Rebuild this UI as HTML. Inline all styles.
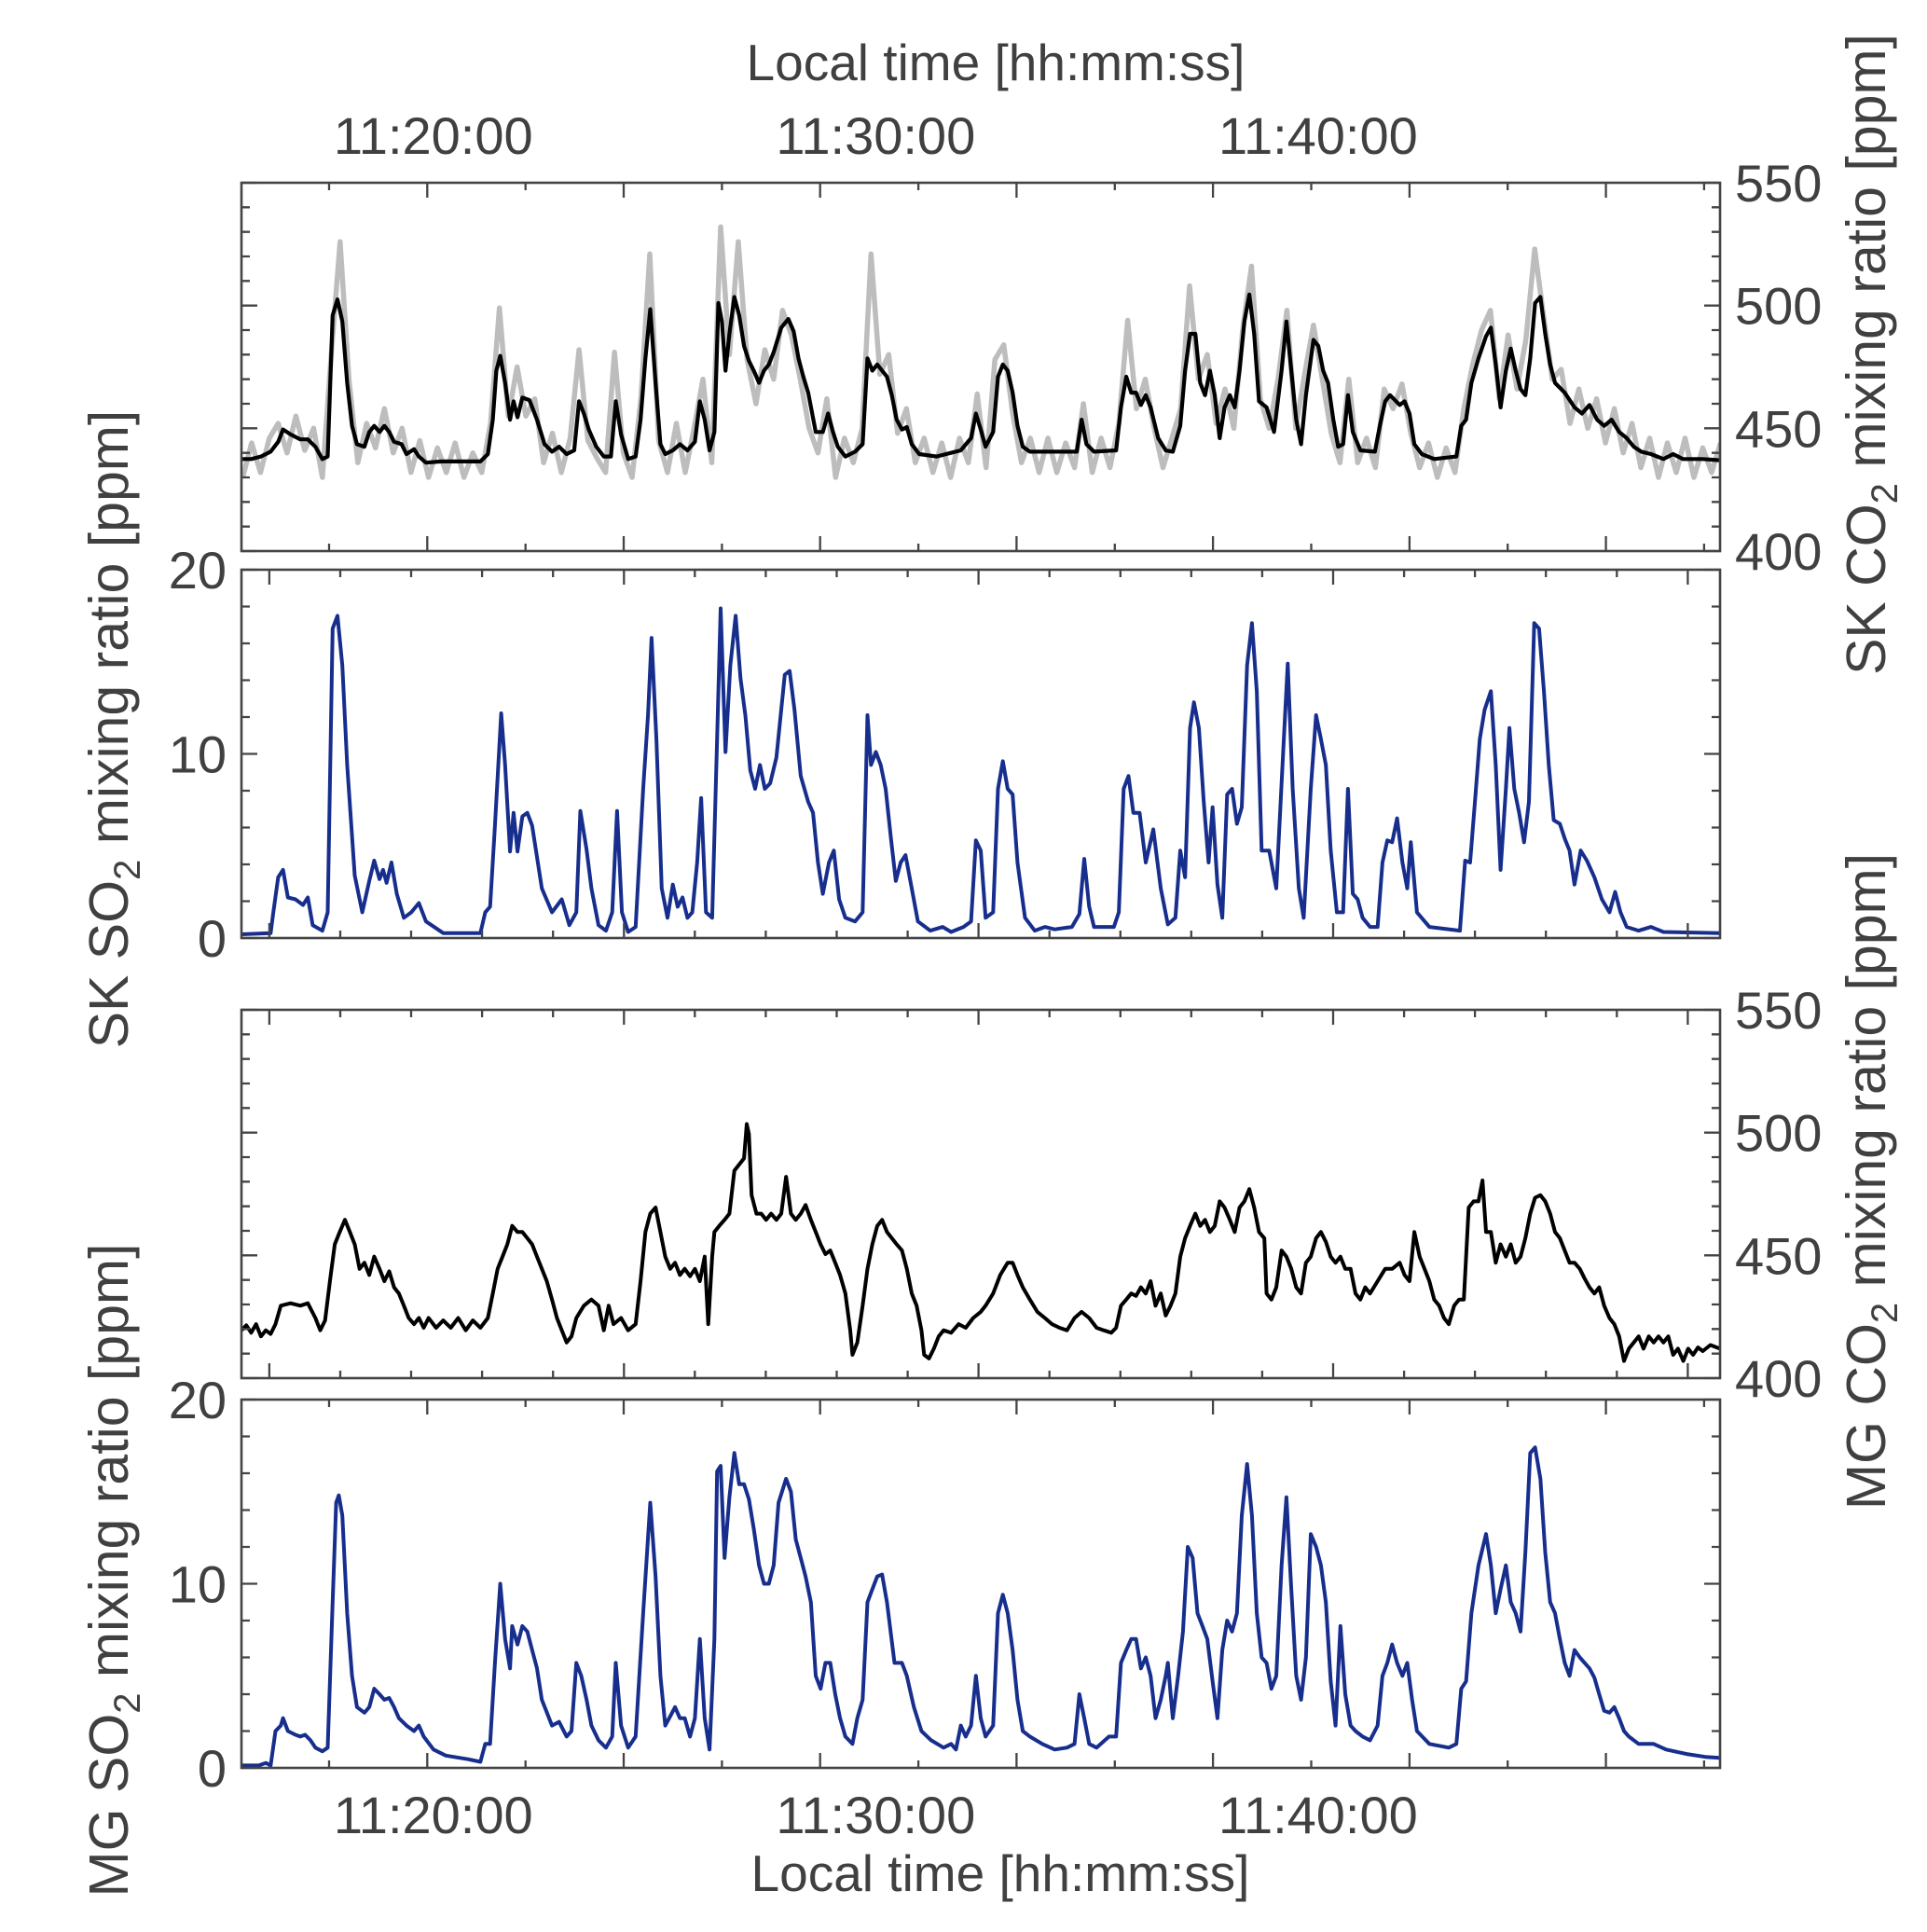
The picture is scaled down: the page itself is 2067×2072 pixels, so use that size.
<!DOCTYPE html>
<html><head><meta charset="utf-8">
<style>
html,body{margin:0;padding:0;background:#fff;}
svg{display:block;}
text{font-family:"Liberation Sans",Arial,sans-serif;fill:#404040;}
</style></head>
<body>
<svg id="chart" width="2067" height="2072" viewBox="0 0 2067 2072" xmlns="http://www.w3.org/2000/svg"></svg>
<script>
// ---------- data (time in minutes after 11:00:00) ----------
const timeLabels = ["11:20:00","11:30:00","11:40:00"];
const timeLabelMinutes = [20,30,40];
const co2Ticks = [400,450,500,550];
const so2Ticks = [0,10,20];

const skCo2T = [15.77,15.99,16.21,16.43,16.60,16.71,16.88,17.10,17.27,17.44,17.60,17.72,17.83,17.94,18.05,18.16,18.27,18.38,18.55,18.66,18.77,18.89,19.00,19.11,19.22,19.39,19.50,19.67,19.78,19.94,20.28,20.67,21.17,21.34,21.45,21.53,21.62,21.73,21.84,21.92,22.01,22.12,22.28,22.45,22.62,22.79,22.95,23.12,23.29,23.40,23.51,23.62,23.79,23.96,24.12,24.23,24.35,24.51,24.68,24.79,24.90,25.01,25.13,25.24,25.35,25.52,25.68,25.85,26.02,26.13,26.24,26.35,26.46,26.55,26.63,26.71,26.80,26.91,27.02,27.13,27.24,27.35,27.47,27.58,27.69,27.80,27.97,28.13,28.25,28.36,28.47,28.58,28.75,28.91,29.03,29.14,29.25,29.42,29.64,29.81,29.92,30.03,30.14,30.25,30.36,30.47,30.58,30.70,30.81,30.92,31.09,31.48,32.03,32.26,32.37,32.48,32.59,32.76,32.87,32.98,33.09,33.20,33.31,33.43,33.59,34.15,34.65,34.76,34.87,35.04,35.54,35.65,35.77,35.88,35.99,36.10,36.21,36.32,36.49,36.66,36.82,36.99,37.10,37.21,37.33,37.44,37.55,37.66,37.77,37.88,37.99,38.11,38.22,38.33,38.44,38.55,38.66,38.77,38.94,39.11,39.28,39.39,39.50,39.61,39.72,39.83,40.00,40.11,40.22,40.33,40.45,40.56,40.67,40.78,40.89,41.06,41.39,41.50,41.62,41.73,41.95,42.06,42.17,42.28,42.45,42.73,43.23,43.34,43.45,43.57,43.73,43.90,44.01,44.12,44.23,44.35,44.46,44.57,44.68,44.79,44.90,45.01,45.13,45.24,45.35,45.46,45.68,45.90,46.07,46.24,46.41,46.57,46.74,46.91,47.08,47.24,47.41,47.63,47.91,48.13,48.35,48.80,49.19];
const skCo2V = [437.5,437.5,438.5,440.5,444.5,449.5,447.5,445.5,445.5,442.5,437.5,438.5,496,502.5,493.5,468.5,451,443.5,442.5,448.5,451,448.5,451,448.5,444.5,443.5,439.5,441.5,438.5,436,436.5,436.5,436.5,439.5,453.5,473.5,479.5,468.5,453.5,461,454.5,462.5,461.5,453.5,443.5,440.5,442.5,439.5,441,461,456,449.5,442.5,438.5,438.5,461,447.5,437.5,438.5,453.5,478.5,498.5,468.5,443.5,439.5,441,443.5,441,444.5,461,453.5,441,448.5,501,493.5,473.5,488.5,503.5,496,483.5,477.5,473.5,468.5,473.5,476,481,491,494.5,489.5,478.5,471,464.5,448.5,448.5,456,448.5,442.5,438.5,440.5,443.5,478.5,473.5,476,473.5,471,463.5,453.5,449.5,450.5,443.5,439.5,438.5,441,446,456,449.5,442.5,448.5,471,476,473.5,464.5,451,442.5,440.5,440.5,440.5,453.5,443.5,440.5,441,458.5,471,464.5,464.5,459.5,463.5,458.5,446,441,440.5,451,473.5,488.5,488.5,468.5,463.5,473.5,463.5,446,458.5,463.5,458.5,473.5,493.5,504.5,488.5,461,458.5,448.5,473.5,493.5,473.5,453.5,443.5,463.5,486,483.5,473.5,468.5,453.5,442.5,443.5,463.5,448.5,441,440.5,451,461,463.5,459.5,461,456,443.5,439.5,437.5,438.5,451,453.5,468.5,478.5,487.5,491,476,458.5,473.5,482.5,473.5,466,463.5,478.5,501,503.5,488.5,476,468.5,464.5,458.5,456,459.5,453.5,451,453.5,448.5,446,442.5,440.5,439.5,437.5,439.5,437.5,437.5,437];

const skCo2RawT = [15.8,16.0,16.2,16.4,16.6,16.8,17.0,17.2,17.4,17.6,17.8,18.0,18.2,18.4,18.6,18.8,19.0,19.2,19.4,19.6,19.8,20.0,20.2,20.4,20.6,20.8,21.0,21.2,21.4,21.6,21.8,22.0,22.2,22.4,22.6,22.8,23.0,23.2,23.4,23.6,23.8,24.0,24.2,24.4,24.6,24.8,25.0,25.2,25.4,25.6,25.8,26.0,26.2,26.4,26.6,26.8,27.0,27.2,27.4,27.6,27.8,28.0,28.2,28.4,28.6,28.8,29.0,29.2,29.4,29.6,29.8,30.0,30.2,30.4,30.6,30.8,31.0,31.2,31.4,31.6,31.8,32.0,32.2,32.4,32.6,32.8,33.0,33.2,33.4,33.6,33.8,34.0,34.2,34.4,34.6,34.8,35.0,35.2,35.4,35.6,35.8,36.0,36.2,36.4,36.6,36.8,37.0,37.2,37.4,37.6,37.8,38.0,38.2,38.4,38.6,38.8,39.0,39.2,39.4,39.6,39.8,40.0,40.2,40.4,40.6,40.8,41.0,41.2,41.4,41.6,41.8,42.0,42.2,42.4,42.6,42.8,43.0,43.2,43.4,43.6,43.8,44.0,44.2,44.4,44.6,44.8,45.0,45.2,45.4,45.6,45.8,46.0,46.2,46.4,46.6,46.8,47.0,47.2,47.4,47.6,47.8,48.0,48.2,48.4,48.6,48.8,49.0,49.2];
const skCo2RawV = [430,444,432,446,452,440,455,441,450,430,480,526,470,436,452,442,458,440,450,432,445,430,442,432,444,430,440,432,452,499,455,475,455,462,436,448,432,446,482,445,438,432,481,440,430,462,521,445,432,452,432,450,470,436,532,480,526,478,460,482,470,498,488,470,450,440,462,430,446,436,450,521,472,480,448,458,436,446,432,444,430,446,436,464,434,478,484,456,436,446,432,446,432,444,434,460,432,446,434,452,494,458,470,450,434,446,458,508,470,480,452,466,450,490,516,462,450,470,498,450,472,492,470,448,436,470,436,446,434,466,458,468,448,434,444,430,442,432,458,476,490,498,462,488,466,486,523,496,470,474,452,466,450,462,444,458,440,452,434,446,430,444,432,446,430,442,432,444];

const skSo2T = [15.77,16.43,16.49,16.60,16.71,16.82,16.99,17.16,17.27,17.38,17.60,17.72,17.83,17.94,18.05,18.16,18.33,18.50,18.66,18.77,18.89,18.97,19.05,19.16,19.28,19.44,19.61,19.78,19.94,20.33,21.17,21.28,21.39,21.50,21.64,21.73,21.84,21.92,22.01,22.12,22.23,22.34,22.56,22.79,23.01,23.18,23.34,23.43,23.57,23.68,23.84,24.01,24.15,24.26,24.37,24.51,24.68,24.85,24.96,25.04,25.15,25.27,25.40,25.52,25.63,25.74,25.85,25.96,26.07,26.16,26.27,26.41,26.52,26.60,26.71,26.82,26.94,27.05,27.16,27.27,27.38,27.49,27.60,27.72,27.86,28.05,28.16,28.27,28.41,28.58,28.69,28.80,28.91,29.05,29.16,29.28,29.42,29.64,29.81,29.92,30.00,30.11,30.22,30.33,30.45,30.56,30.67,30.78,30.89,31.06,31.34,31.62,31.81,32.09,32.26,32.37,32.48,32.59,32.76,32.87,32.98,33.09,33.20,33.31,33.48,33.70,33.93,34.15,34.54,34.71,34.82,34.93,35.04,35.49,35.60,35.71,35.82,35.93,36.07,36.21,36.38,36.55,36.71,36.88,36.99,37.10,37.21,37.30,37.41,37.52,37.63,37.72,37.83,37.94,38.05,38.16,38.27,38.38,38.50,38.61,38.72,38.83,39.00,39.16,39.33,39.42,39.53,39.67,39.78,39.94,40.06,40.17,40.28,40.39,40.53,40.67,40.78,40.89,41.00,41.11,41.28,41.45,41.56,41.67,41.78,41.89,42.01,42.12,42.20,42.34,42.62,43.31,43.43,43.54,43.65,43.76,43.87,44.01,44.12,44.23,44.35,44.43,44.54,44.65,44.76,44.87,44.99,45.10,45.21,45.32,45.43,45.57,45.68,45.79,45.90,46.04,46.18,46.35,46.52,46.69,46.82,46.94,47.08,47.35,47.63,47.91,49.19];
const skSo2V = [0.2,0.27,1.4,3.3,3.7,2.2,2.1,1.8,2.2,0.7,0.4,1.4,16.8,17.5,14.8,9.4,3.4,1.4,3.1,4.2,3.2,3.7,3.0,4.1,2.4,1.1,1.4,1.9,0.9,0.27,0.27,1.4,1.7,6.1,12.2,9.4,4.7,6.8,4.7,6.6,6.8,6.1,2.7,1.4,2.1,0.7,1.4,6.9,4.8,2.7,0.7,0.4,1.4,6.9,1.4,0.33,0.6,8.1,12.1,16.3,10.8,2.7,1.1,2.9,1.7,2.2,1.1,1.4,4.1,7.6,1.4,1.1,10.8,17.9,10.1,14.8,17.5,14.1,12.1,9.1,8.1,9.4,8.1,8.4,9.8,14.3,14.5,12.4,8.8,7.4,6.8,4.1,2.4,4.1,4.75,2.1,1.1,0.9,1.4,12.1,9.4,10.1,9.4,8.1,5.4,3.1,4.1,4.5,3.1,0.9,0.4,0.6,0.33,0.6,0.9,5.3,4.75,1.1,1.4,8.1,9.6,8.1,7.8,4.1,1.1,0.4,0.6,0.47,0.6,1.3,4.3,1.7,0.6,0.6,1.4,8.1,8.8,6.8,6.8,4.1,5.9,2.7,0.74,1.1,4.75,3.3,11.4,12.8,11.4,7.4,4.1,7.1,2.9,1.1,7.8,8.1,6.2,7.1,14.8,17.1,13.4,4.75,4.75,2.7,10.8,14.9,8.1,2.7,1.1,8.1,12.1,10.8,9.4,4.75,1.4,1.4,8.1,2.4,2.1,1.1,0.6,0.6,4.1,5.3,5.2,6.5,4.1,2.7,5.2,1.4,0.6,0.4,4.2,4.1,7.4,10.8,12.4,13.4,9.4,3.7,8.1,11.4,8.1,6.8,5.2,7.4,17.1,16.8,13.4,9.4,6.4,6.2,5.4,4.75,2.9,4.75,4.2,3.3,2.1,1.4,2.5,1.4,0.6,0.4,0.6,0.33,0.27];

const mgCo2T = [15.77,15.88,15.99,16.10,16.21,16.32,16.43,16.54,16.66,16.88,17.10,17.27,17.44,17.55,17.66,17.77,17.88,17.99,18.11,18.22,18.33,18.44,18.55,18.66,18.77,18.89,19.00,19.11,19.22,19.33,19.44,19.55,19.67,19.78,19.89,20.00,20.17,20.33,20.50,20.67,20.84,21.00,21.17,21.34,21.45,21.56,21.67,21.78,21.89,22.01,22.12,22.23,22.34,22.45,22.56,22.67,22.79,22.90,23.01,23.12,23.23,23.34,23.51,23.68,23.84,23.96,24.07,24.18,24.35,24.51,24.68,24.79,24.90,25.01,25.13,25.24,25.35,25.46,25.57,25.68,25.79,25.91,26.02,26.13,26.24,26.32,26.41,26.46,26.57,26.69,26.80,26.91,27.02,27.13,27.19,27.24,27.30,27.41,27.52,27.63,27.74,27.86,27.97,28.08,28.19,28.30,28.41,28.52,28.64,28.75,28.86,28.97,29.08,29.19,29.30,29.42,29.53,29.58,29.69,29.81,29.92,30.03,30.14,30.25,30.36,30.47,30.58,30.70,30.81,30.92,31.03,31.14,31.20,31.31,31.42,31.53,31.64,31.81,31.98,32.14,32.31,32.48,32.59,32.76,32.92,33.09,33.20,33.31,33.43,33.59,33.76,33.93,34.09,34.26,34.43,34.60,34.76,34.93,35.10,35.26,35.43,35.54,35.65,35.77,35.88,35.99,36.10,36.21,36.32,36.43,36.55,36.66,36.77,36.88,36.99,37.10,37.21,37.33,37.44,37.55,37.66,37.77,37.88,37.99,38.11,38.22,38.33,38.44,38.55,38.66,38.77,38.89,38.94,39.05,39.16,39.28,39.39,39.50,39.61,39.72,39.83,39.94,40.06,40.17,40.28,40.39,40.50,40.61,40.72,40.84,40.95,41.06,41.17,41.28,41.45,41.62,41.78,41.95,42.06,42.17,42.28,42.40,42.51,42.62,42.73,42.84,42.95,43.06,43.18,43.29,43.40,43.51,43.62,43.73,43.82,43.90,44.01,44.12,44.23,44.35,44.46,44.57,44.68,44.79,44.90,45.01,45.13,45.24,45.35,45.46,45.57,45.68,45.79,45.90,46.02,46.13,46.24,46.35,46.46,46.57,46.69,46.80,46.91,47.02,47.13,47.24,47.35,47.46,47.58,47.69,47.80,47.91,48.02,48.13,48.24,48.36,48.47,48.58,48.69,48.80,48.97,49.19];
const mgCo2V = [419.5,421.5,418.5,422,417,419.5,418,422,429.5,430.5,429.5,430.5,424.5,419.5,423.5,439.5,454.5,459.5,464.5,459.5,454.5,444.5,447,442,449.5,444.5,439.5,443.5,437,434.5,429.5,424.5,422,424.5,420.5,424.5,420.5,423.5,420.5,424.5,419.5,423.5,420.5,424.5,434.5,444.5,449.5,454.5,462,459.5,459.5,457,454.5,449.5,444.5,439.5,432,424.5,419.5,414.5,417,424.5,429.5,432,429.5,419.5,429.5,422,424.5,419.5,422,439.5,459.5,467,469.5,459.5,449.5,444.5,447,442,444.5,441.5,444.5,439.5,449.5,422,449.5,459.5,462,464.5,467,484.5,487,489.5,503.5,499.5,474.5,467,467,464.5,467,464.5,467,482,467,464.5,467,470.5,464.5,459.5,454.5,450.5,452,447,442,434.5,419.5,409.5,414.5,429.5,444.5,454.5,462,464.5,459.5,457,454.5,452,444.5,434.5,429.5,419.5,409.5,408,412,417,419.5,418.5,422,420.5,424.5,427,429.5,434.5,442,447,447,442,437,432,427,424.5,422,420.5,419.5,424.5,427,424.5,420.5,419.5,418.5,420.5,429.5,432,434.5,433.5,437,434.5,439.5,429.5,434.5,425.5,429.5,434.5,449.5,457,462,467,462,464.5,459.5,462,472,469.5,464.5,459.5,469.5,472,477,469.5,459.5,457,434.5,432,437,452,449.5,444.5,437,434.5,447,449.5,457,459.5,455.5,449.5,447,449.5,444.5,444.5,434.5,432,437,434.5,439.5,444.5,444.5,447,442,439.5,459.5,449.5,444.5,439.5,432,429.5,424.5,422,429.5,432,432,469.5,472,472,480.5,459.5,459.5,447,454.5,449.5,454.5,447,449.5,457,467,473.5,474.5,472,467,459.5,457,452,447,447,444.5,440.5,437,434.5,437,429.5,424.5,422,417,407,412,414.5,417,412,417,414.5,417,414.5,417,409.5,412,407,412,409.5,412.5,411,413.5,412];

const mgSo2T = [15.77,16.16,16.32,16.43,16.54,16.66,16.71,16.82,16.99,17.10,17.21,17.33,17.44,17.60,17.72,17.83,17.91,17.97,18.05,18.16,18.27,18.38,18.55,18.66,18.77,18.89,19.00,19.11,19.22,19.33,19.50,19.67,19.78,19.89,20.11,20.39,20.89,21.17,21.28,21.39,21.50,21.62,21.73,21.84,21.89,22.01,22.12,22.23,22.34,22.45,22.56,22.79,22.95,23.12,23.23,23.34,23.45,23.57,23.68,23.84,24.01,24.15,24.23,24.35,24.51,24.68,24.85,25.01,25.13,25.24,25.35,25.46,25.57,25.68,25.79,25.91,26.02,26.13,26.24,26.35,26.46,26.52,26.60,26.69,26.80,26.91,27.02,27.13,27.24,27.35,27.47,27.58,27.69,27.80,27.91,28.08,28.19,28.30,28.41,28.52,28.64,28.75,28.86,28.97,29.08,29.19,29.30,29.42,29.58,29.69,29.81,29.92,30.03,30.14,30.25,30.36,30.53,30.70,30.81,30.97,31.14,31.36,31.64,31.81,31.92,32.03,32.14,32.26,32.37,32.48,32.59,32.76,32.87,32.98,33.09,33.20,33.31,33.43,33.59,33.87,34.15,34.43,34.60,34.71,34.82,34.93,35.10,35.38,35.54,35.65,35.77,35.88,35.99,36.10,36.21,36.32,36.43,36.55,36.66,36.71,36.82,36.94,37.05,37.16,37.27,37.38,37.49,37.60,37.72,37.83,37.94,38.05,38.16,38.27,38.38,38.50,38.61,38.72,38.83,38.94,39.05,39.16,39.28,39.39,39.50,39.61,39.72,39.83,39.94,40.06,40.17,40.28,40.39,40.50,40.61,40.72,40.84,40.95,41.11,41.28,41.45,41.56,41.67,41.78,41.89,42.01,42.12,42.23,42.34,42.62,43.06,43.23,43.34,43.45,43.57,43.73,43.90,44.01,44.12,44.23,44.35,44.46,44.57,44.68,44.79,44.90,45.01,45.13,45.24,45.35,45.46,45.57,45.68,45.79,45.90,46.02,46.13,46.24,46.35,46.46,46.57,46.69,46.80,46.91,47.02,47.13,47.35,47.69,47.97,48.47,48.86,49.19];
const mgSo2V = [0.13,0.13,0.27,0.13,2.0,2.3,2.7,2.0,1.8,1.7,1.8,1.5,1.1,0.9,1.1,9.0,14.4,14.8,13.7,8.4,5.0,3.3,3.0,3.3,4.3,4.0,3.7,3.8,3.3,2.7,2.3,2.0,2.3,1.7,1.0,0.67,0.47,0.33,1.3,1.3,5.7,10.0,7.0,5.4,7.7,6.7,7.7,7.4,6.4,5.4,3.7,2.3,2.5,1.7,2.0,5.7,5.0,3.7,2.3,1.5,1.1,1.7,5.7,2.3,1.1,1.7,8.4,14.4,10.4,5.0,2.3,2.8,3.3,2.7,2.7,1.7,2.7,7.0,2.7,1.0,7.0,16.1,16.4,11.4,14.7,17.1,15.4,15.4,14.6,13.0,11.0,10.0,10.0,11.0,14.4,15.7,15.0,12.4,11.4,10.4,9.0,5.0,4.3,5.7,5.7,4.0,2.7,1.7,1.3,2.7,3.7,9.0,9.7,10.4,10.5,9.0,5.7,5.7,5.0,3.3,2.0,1.5,1.1,1.3,1.0,2.3,1.7,2.3,5.0,2.7,1.7,2.3,8.4,9.4,8.4,6.4,3.7,2.0,1.7,1.3,1.0,1.1,1.3,4.0,2.7,1.3,1.1,1.7,1.7,5.7,6.4,7.0,7.0,5.4,6.0,5.0,2.7,3.7,5.0,5.7,2.7,5.0,7.4,12.0,11.4,8.4,7.7,7.0,4.7,2.7,6.4,8.0,7.4,8.4,13.7,16.5,13.7,8.4,6.0,5.7,4.3,5.0,11.0,14.7,9.7,5.0,3.7,6.0,12.7,12.0,11.0,9.0,4.7,2.3,7.7,4.0,2.3,2.0,1.7,1.5,2.3,5.0,5.7,6.7,5.7,5.0,5.7,3.7,2.0,1.3,1.1,1.3,4.3,4.7,8.4,11.0,12.7,11.0,8.4,9.7,11.0,9.0,8.4,7.4,11.7,17.1,17.4,15.7,11.7,9.0,8.4,7.0,5.7,5.0,6.4,6.0,5.7,5.4,4.9,4.0,3.1,3.0,3.3,2.7,2.0,1.7,1.3,1.3,1.0,0.74,0.6,0.54];

// ---------- layout ----------
const NS = "http://www.w3.org/2000/svg";
const svg = document.getElementById('chart');
const L = 259, R = 1845;
const T0 = 15.77, T1 = 49.19;
function xS(t){ return L + (t - T0) / (T1 - T0) * (R - L); }
const panels = [
  {id:'sk-co2', top:196, bot:591, min:400, max:550, minor:10, major:50, xStart:17.75, xStep:2.22, longOdd:true},
  {id:'sk-so2', top:611, bot:1006, min:0, max:20, minor:2, major:10, xStart:16.40, xStep:1.603, longOdd:false},
  {id:'mg-co2', top:1083, bot:1478, min:400, max:550, minor:10, major:50, xStart:16.40, xStep:1.603, longOdd:false},
  {id:'mg-so2', top:1501, bot:1896, min:0, max:20, minor:2, major:10, xStart:17.75, xStep:2.22, longOdd:true}
];
function yS(p, v){ return p.bot - (v - p.min) / (p.max - p.min) * (p.bot - p.top); }
function el(tag, attrs, parent){
  const e = document.createElementNS(NS, tag);
  for (const k in attrs) e.setAttribute(k, attrs[k]);
  (parent || svg).appendChild(e);
  return e;
}
const AX = '#444';
const defs = el('defs', {});
panels.forEach(p => {
  const cp = el('clipPath', {id:'clip-' + p.id}, defs);
  el('rect', {x:L, y:p.top, width:R-L, height:p.bot-p.top}, cp);
});

function linePath(p, ts, vs){
  let d = '';
  for (let i = 0; i < ts.length; i++) d += (i ? 'L' : 'M') + xS(ts[i]).toFixed(1) + ',' + yS(p, vs[i]).toFixed(1);
  return d;
}
function drawLine(p, ts, vs, color, w, name){
  const g = el('path', {d:linePath(p, ts, vs), fill:'none', stroke:color, 'stroke-width':w, 'stroke-linejoin':'round', 'clip-path':'url(#clip-' + p.id + ')'});
  
  
}
drawLine(panels[0], skCo2RawT, skCo2RawV, '#bdbdbd', 5.5, 'sk-co2-raw-line');
drawLine(panels[0], skCo2T, skCo2V, '#000', 4.2, 'sk-co2-smoothed-line');
drawLine(panels[1], skSo2T, skSo2V, '#172e8d', 4.0, 'sk-so2-line');
drawLine(panels[2], mgCo2T, mgCo2V, '#000', 4.0, 'mg-co2-line');
drawLine(panels[3], mgSo2T, mgSo2V, '#172e8d', 4.0, 'mg-so2-line');

// axes frames and ticks
panels.forEach(p => {
  const f = el('rect', {x:L, y:p.top, width:R-L, height:p.bot-p.top, fill:'none', stroke:AX, 'stroke-width':2.6});
  
  
  let d = '';
  for (let k = 0; ; k++) {
    const t = p.xStart + k * p.xStep;
    if (t > T1) break;
    const x = xS(t);
    const isLong = p.longOdd ? (k % 2 === 1) : (k % 5 === 0);
    const len = isLong ? 16 : 8;
    d += 'M' + x.toFixed(1) + ',' + p.bot + 'v' + (-len) + 'M' + x.toFixed(1) + ',' + p.top + 'v' + len;
  }
  for (let v = p.min; v <= p.max + 1e-6; v += p.minor) {
    const y = yS(p, v);
    const isMaj = Math.abs((v - p.min) % p.major) < 1e-6;
    const len = isMaj ? 17 : 9;
    d += 'M' + L + ',' + y.toFixed(1) + 'h' + len + 'M' + R + ',' + y.toFixed(1) + 'h' + (-len);
  }
  const tk = el('path', {d:d, stroke:AX, 'stroke-width':2.3, fill:'none'});
  
  
});

// tick labels
function txt(x, y, s, anchor, name, size){
  const t = el('text', {x:x, y:y, 'font-size':size || 55, 'text-anchor':anchor});
  t.textContent = s;
  
  
  return t;
}
co2Ticks.forEach(v => {
  txt(1861, yS(panels[0], v) + 20, String(v), 'start', 'sk-co2-tick-label', 56);
  txt(1861, yS(panels[2], v) + 20, String(v), 'start', 'mg-co2-tick-label', 56);
});
so2Ticks.forEach(v => {
  txt(243, yS(panels[1], v) + 20, String(v), 'end', 'sk-so2-tick-label', 56);
  txt(243, yS(panels[3], v) + 20, String(v), 'end', 'mg-so2-tick-label', 56);
});
timeLabels.forEach((s, i) => {
  const x = xS(timeLabelMinutes[i]) + 5;
  txt(x, 165, s, 'middle', 'top-time-tick-label', 56);
  txt(x, 1966, s, 'middle', 'bottom-time-tick-label', 56);
});
txt(1068, 86, 'Local time [hh:mm:ss]', 'middle', 'top-x-axis-title', 55);
txt(1073, 2028, 'Local time [hh:mm:ss]', 'middle', 'bottom-x-axis-title', 55);

// rotated axis titles with subscript
function vTitle(cx, cy, pre, post, name){
  const t = el('text', {x:0, y:0, 'font-size':59, 'text-anchor':'middle', transform:'translate(' + (cx + 21) + ',' + cy + ') rotate(-90)'});
  
  
  const a = el('tspan', {}, t); a.textContent = pre;
  const b = el('tspan', {'font-size':40, dy:13}, t); b.textContent = '2';
  const c = el('tspan', {dy:-13}, t); c.textContent = post;
}
vTitle(116, 782, 'SK SO', ' mixing ratio [ppm]', 'sk-so2-y-axis-title');
vTitle(116, 1684, 'MG SO', ' mixing ratio [ppm]', 'mg-so2-y-axis-title');
vTitle(2001, 380, 'SK CO', ' mixing ratio [ppm]', 'sk-co2-y-axis-title');
vTitle(2001, 1267, 'MG CO', ' mixing ratio [ppm]', 'mg-co2-y-axis-title');
</script>
</body></html>
